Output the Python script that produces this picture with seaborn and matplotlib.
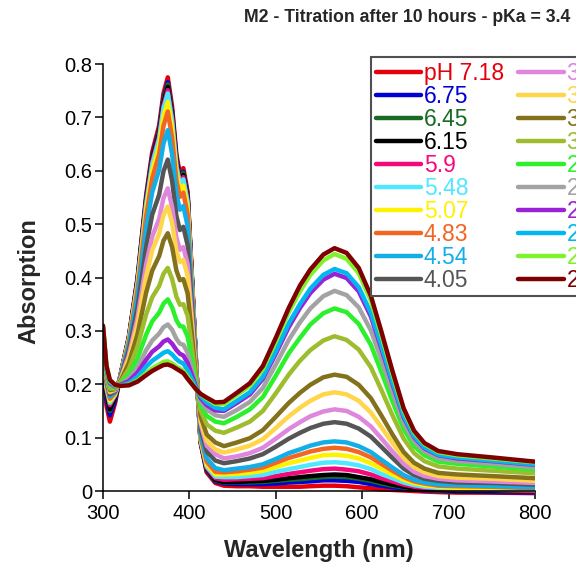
import matplotlib
matplotlib.use("Agg")
import matplotlib.pyplot as plt
import pandas as pd
import seaborn as sns

# wavelength grid (nm) shared by every spectrum
wavelength = [300, 304, 308, 314, 320, 330, 340, 350, 357, 365, 370, 375, 380, 385, 389,
              393, 398, 403, 408, 413, 420, 430,
              440, 455, 470, 485, 500, 515, 528, 540, 555, 568, 582, 596, 610, 622, 635,
              648, 660, 672, 688, 710, 750, 800]

ph_labels = ["pH 7.18", "6.75", "6.45", "6.15", "5.9", "5.48", "5.07", "4.83", "4.54", "4.05",
             "3.78", "3.56", "3.33", "3.1", "2.88", "2.7", "2.5", "2.34", "2.18", "2.02"]

line_colors = ["#e3000b", "#0000d4", "#196b24", "#000000", "#f7087a", "#50e8ff", "#fff200",
               "#f26522", "#12aee8", "#555555", "#df86dd", "#ffd54a", "#83711b", "#9dbd2f",
               "#2bf02b", "#a3a3a3", "#9b21d6", "#00b7ef", "#7ff22a", "#7f0000"]

abs_718 = [.250, .160, .130, .165, .215, .290, .400, .555, .635, .685, .745, .775, .720, .630, .595,
           .605, .560, .400, .230, .090, .035, .015,
           .010, .009, .009, .008, .008, .008, .008, .009, .010, .010, .009, .007, .005, .003, .002,
           .001, .000, -.001, -.002, -.003, -.003, -.004]
abs_675 = [.259, .171, .142, .170, .215, .288, .397, .549, .628, .677, .736, .766, .712, .623, .589,
           .598, .554, .397, .229, .092, .038, .018,
           .014, .013, .013, .013, .014, .016, .017, .018, .020, .020, .019, .017, .013, .010, .007,
           .005, .003, .001, .000, -.001, -.002, -.003]
abs_645 = [.265, .179, .150, .174, .215, .288, .395, .547, .625, .674, .733, .762, .708, .620, .586,
           .596, .552, .395, .229, .092, .039, .020,
           .016, .016, .016, .017, .019, .021, .022, .024, .026, .027, .026, .023, .019, .014, .010,
           .007, .004, .002, .001, .000, .000, -.002]
abs_615 = [.268, .183, .153, .175, .214, .287, .394, .544, .622, .670, .728, .757, .704, .617, .583,
           .592, .548, .393, .229, .093, .041, .021,
           .017, .017, .018, .019, .021, .024, .026, .028, .030, .031, .030, .026, .022, .017, .012,
           .008, .005, .003, .002, .000, .000, -.001]
abs_590 = [.274, .190, .161, .179, .214, .286, .391, .540, .617, .665, .722, .751, .698, .612, .578,
           .588, .544, .391, .228, .094, .043, .024,
           .021, .022, .023, .024, .028, .032, .035, .038, .041, .042, .040, .037, .031, .024, .018,
           .012, .008, .006, .004, .002, .002, .000]
abs_548 = [.277, .194, .165, .180, .214, .285, .389, .536, .612, .660, .717, .745, .693, .608, .574,
           .584, .540, .389, .228, .095, .046, .027,
           .026, .026, .028, .030, .036, .041, .045, .049, .053, .054, .052, .048, .041, .032, .024,
           .016, .011, .008, .006, .004, .004, .002]
abs_507 = [.280, .198, .169, .182, .213, .282, .383, .526, .600, .647, .702, .729, .679, .596, .564,
           .572, .530, .383, .227, .098, .050, .031,
           .031, .032, .034, .038, .045, .052, .057, .062, .067, .068, .066, .061, .052, .042, .031,
           .021, .015, .011, .008, .006, .006, .004]
abs_483 = [.283, .201, .173, .184, .213, .279, .377, .515, .586, .631, .684, .711, .662, .582, .551,
           .559, .518, .376, .225, .101, .055, .036,
           .035, .037, .040, .044, .053, .062, .068, .074, .079, .081, .079, .073, .063, .051, .038,
           .026, .018, .014, .010, .009, .008, .005]
abs_454 = [.286, .205, .177, .185, .212, .273, .364, .493, .560, .602, .651, .676, .631, .556, .527,
           .534, .496, .363, .223, .107, .061, .043,
           .039, .042, .045, .050, .060, .071, .078, .085, .091, .093, .091, .084, .073, .059, .044,
           .030, .021, .016, .012, .011, .009, .007]
abs_405 = [.289, .209, .181, .187, .210, .264, .344, .458, .518, .555, .599, .621, .581, .515, .489,
           .495, .460, .343, .219, .116, .074, .057,
           .052, .056, .061, .069, .083, .098, .109, .118, .126, .129, .126, .117, .102, .083, .062,
           .042, .030, .023, .019, .016, .015, .012]
abs_378 = [.292, .213, .185, .189, .208, .255, .325, .425, .477, .510, .549, .567, .532, .475, .452,
           .457, .425, .323, .215, .126, .085, .069,
           .061, .065, .071, .081, .098, .116, .129, .140, .149, .153, .150, .139, .121, .099, .074,
           .051, .036, .028, .023, .020, .018, .015]
abs_356 = [.293, .214, .186, .190, .207, .249, .312, .403, .451, .482, .517, .533, .502, .450, .429,
           .433, .403, .310, .212, .131, .094, .078,
           .072, .078, .085, .097, .118, .140, .156, .169, .181, .185, .181, .169, .147, .120, .090,
           .062, .045, .035, .028, .025, .023, .019]
abs_333 = [.295, .216, .189, .191, .205, .240, .294, .372, .413, .440, .469, .483, .457, .413, .395,
           .397, .370, .292, .208, .140, .106, .091,
           .084, .091, .099, .114, .139, .165, .184, .199, .213, .218, .214, .199, .174, .142, .106,
           .073, .053, .042, .034, .031, .028, .024]
abs_310 = [.298, .220, .192, .192, .203, .229, .271, .331, .363, .384, .407, .418, .397, .364, .349,
           .350, .328, .267, .203, .151, .125, .113,
           .109, .119, .130, .150, .183, .218, .244, .264, .282, .290, .283, .265, .232, .190, .142,
           .098, .071, .056, .046, .042, .038, .033]
abs_288 = [.301, .224, .196, .194, .201, .219, .249, .293, .318, .334, .351, .359, .344, .320, .309,
           .308, .289, .245, .199, .161, .141, .130,
           .127, .139, .153, .176, .216, .258, .287, .312, .333, .342, .335, .313, .274, .224, .168,
           .116, .084, .067, .055, .051, .046, .040]
abs_270 = [.303, .226, .199, .195, .200, .211, .232, .264, .282, .295, .307, .312, .302, .285, .276,
           .274, .259, .228, .196, .169, .153, .142,
           .139, .152, .167, .193, .237, .283, .316, .342, .365, .375, .367, .344, .301, .247, .185,
           .127, .093, .074, .061, .056, .051, .044]
abs_250 = [.305, .229, .202, .196, .199, .206, .222, .246, .261, .271, .280, .284, .276, .264, .257,
           .254, .240, .217, .194, .174, .161, .151,
           .150, .165, .181, .210, .257, .307, .343, .371, .396, .407, .399, .374, .327, .268, .201,
           .138, .101, .080, .067, .061, .056, .049]
abs_234 = [.307, .231, .204, .197, .198, .202, .214, .233, .244, .253, .259, .262, .256, .247, .242,
           .239, .226, .209, .192, .178, .166, .156,
           .153, .169, .185, .214, .262, .314, .350, .379, .405, .416, .408, .382, .334, .274, .205,
           .141, .103, .082, .068, .063, .057, .050]
abs_218 = [.309, .234, .206, .198, .197, .199, .207, .221, .230, .237, .242, .243, .239, .233, .229,
           .225, .214, .202, .190, .181, .173, .163,
           .163, .180, .197, .228, .280, .335, .374, .405, .432, .444, .435, .408, .357, .293, .219,
           .151, .110, .088, .073, .067, .061, .054]
abs_202 = [.310, .235, .208, .199, .197, .198, .205, .217, .225, .232, .236, .237, .234, .229, .225,
           .221, .210, .200, .190, .182, .175, .166,
           .167, .184, .202, .234, .287, .343, .385, .415, .443, .455, .446, .418, .366, .300, .225,
           .155, .113, .090, .075, .069, .063, .055]

spectra = [abs_718, abs_675, abs_645, abs_615, abs_590, abs_548, abs_507, abs_483, abs_454,
           abs_405, abs_378, abs_356, abs_333, abs_310, abs_288, abs_270, abs_250, abs_234,
           abs_218, abs_202]

frames = []
for label, values in zip(ph_labels, spectra):
    frames.append(pd.DataFrame({"wavelength": wavelength, "absorption": values, "pH": label}))
data = pd.concat(frames, ignore_index=True)

sns.set_theme(style="ticks")
plt.rcParams["font.family"] = ["Liberation Sans", "DejaVu Sans"]

fig = plt.figure(figsize=(5.76, 5.69), dpi=100)
ax = fig.add_axes([0.1788, 0.1258, 0.75, 0.7617])

sns.lineplot(
    data=data, x="wavelength", y="absorption", hue="pH", hue_order=ph_labels,
    palette=dict(zip(ph_labels, line_colors)), linewidth=3.2, estimator=None,
    sort=False, legend=False, ax=ax,
)

ax.set_xlim(300, 800)
ax.set_ylim(-0.012, 0.8)
ax.set_xticks([300, 400, 500, 600, 700, 800])
ax.set_yticks([0, 0.1, 0.2, 0.3, 0.4, 0.5, 0.6, 0.7, 0.8])
ax.set_yticklabels(["0", "0.1", "0.2", "0.3", "0.4", "0.5", "0.6", "0.7", "0.8"])
ax.tick_params(labelsize=14.5, length=5.5, width=1.1, direction="out", pad=2.5, colors="black")
ax.tick_params(axis="x", pad=4)

for side in ["top", "right"]:
    ax.spines[side].set_visible(False)
ax.spines["bottom"].set_position(("data", 0))
ax.spines["left"].set_bounds(0, 0.8)
for side in ["left", "bottom"]:
    ax.spines[side].set_linewidth(1.1)
    ax.spines[side].set_color("black")

ax.set_xlabel("Wavelength (nm)", fontsize=17, fontweight="bold")
ax.set_ylabel("Absorption", fontsize=17, fontweight="bold")
ax.xaxis.set_label_coords(0.5, -0.096)
ax.yaxis.set_label_coords(-0.146, 0.5)

leg = ax.legend(
    ax.get_lines(), ph_labels, ncol=2, loc="upper left",
    bbox_to_anchor=(371 / 576, 512 / 569), bbox_transform=fig.transFigure,
    fontsize=16.5, handlelength=2.0, handletextpad=0.1, labelspacing=0.0,
    borderpad=0.2, columnspacing=0.63, borderaxespad=0, fancybox=False,
    framealpha=1, edgecolor="#505050",
)
leg.get_frame().set_linewidth(1.5)
for text, line in zip(leg.get_texts(), leg.get_lines()):
    text.set_color(line.get_color())
    line.set_linewidth(3.2)

fig.text(0.7075, 0.970, "M2 - Titration after 10 hours - pKa = 3.4",
         ha="center", va="center", fontsize=12.7, fontweight="bold")

fig.savefig("out.png", dpi=100)
